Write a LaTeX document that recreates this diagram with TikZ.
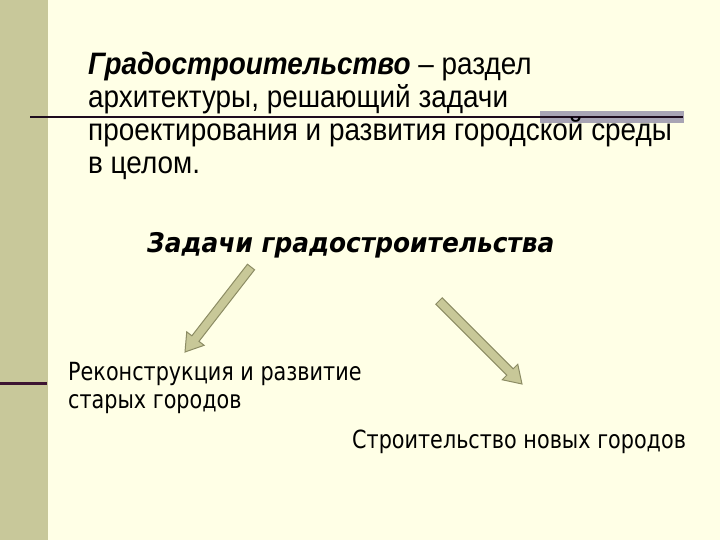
\documentclass[tikz,border=0pt]{standalone}
\usepackage{fontspec}
\setmainfont[FakeStretch=0.9]{Liberation Sans}
\newfontfamily\tahomalike[FakeStretch=0.83]{DejaVu Sans}
\newfontfamily\verdanalike[FakeStretch=0.92]{DejaVu Sans}
\usetikzlibrary{calc,positioning,backgrounds}
\definecolor{fondo}{RGB}{255,255,230}
\definecolor{barra}{RGB}{200,200,154}
\definecolor{linea}{RGB}{30,12,30}
\definecolor{lineabarra}{RGB}{60,20,50}
\definecolor{banda}{RGB}{168,164,180}
\definecolor{flecharelleno}{RGB}{200,200,152}
\definecolor{flechaborde}{RGB}{140,140,100}
\tikzstyle{texto}=[inner sep=0,align=left,font=\fontsize{31}{33}\selectfont]
\tikzstyle{titulo}=[inner sep=0,font=\verdanalike\bfseries\itshape\fontsize{27}{30}\selectfont]
\tikzstyle{rama}=[inner sep=0,align=left,font=\tahomalike\fontsize{25}{28}\selectfont]
\tikzstyle{flecha}=[draw=flechaborde,fill=flecharelleno,line width=1,line join=miter]
\newcommand\bloque[2]{%
	\path[flecha] ($(#1)!4.5pt!90:(#2)$) -- ($($(#2)!17pt!(#1)$)!4.5pt!90:(#2)$)
		-- ($($(#2)!17pt!(#1)$)!11pt!90:(#2)$) -- (#2)
		-- ($($(#2)!17pt!(#1)$)!11pt!-90:(#2)$) -- ($($(#2)!17pt!(#1)$)!4.5pt!-90:(#2)$)
		-- ($(#1)!4.5pt!-90:(#2)$) -- cycle;}
\begin{document}
\begin{tikzpicture}[x=1pt,y=-1pt]
		\fill[fondo] (0,0) rectangle (720,540);
		\useasboundingbox (0,0) rectangle (720,540);
		\fill[barra] (0,0) rectangle (48,540);
		\draw[lineabarra,line width=3] (0,383) -- (47,383);
		\fill[banda] (540,111) rectangle (684,123);
		\draw[linea,line width=2] (30,117) -- (683,117);

		\node[texto,anchor=north west]	(defn)	at (88,52)
			{{\bfseries\itshape Градостроительство} – раздел\\
			архитектуры, решающий задачи\\
			проектирования и развития городской среды\\
			в целом.};
		\node[titulo,anchor=base west]	(tareas)	at (147,252)	{Задачи градостроительства};
		\node[rama,anchor=north west]	(reconstr)	at (68,362)
			{Реконструкция и развитие\\старых городов};
		\node[rama,anchor=base west]	(nuevas)	at (352,448)	{Строительство новых городов};

		\coordinate	(colaA)	at (251,267);
		\coordinate	(puntaA)	at (185,352);
		\coordinate	(colaB)	at (439,301);
		\coordinate	(puntaB)	at (522,384);
		\bloque{colaA}{puntaA}
		\bloque{colaB}{puntaB}
	\end{tikzpicture}
\end{document}
